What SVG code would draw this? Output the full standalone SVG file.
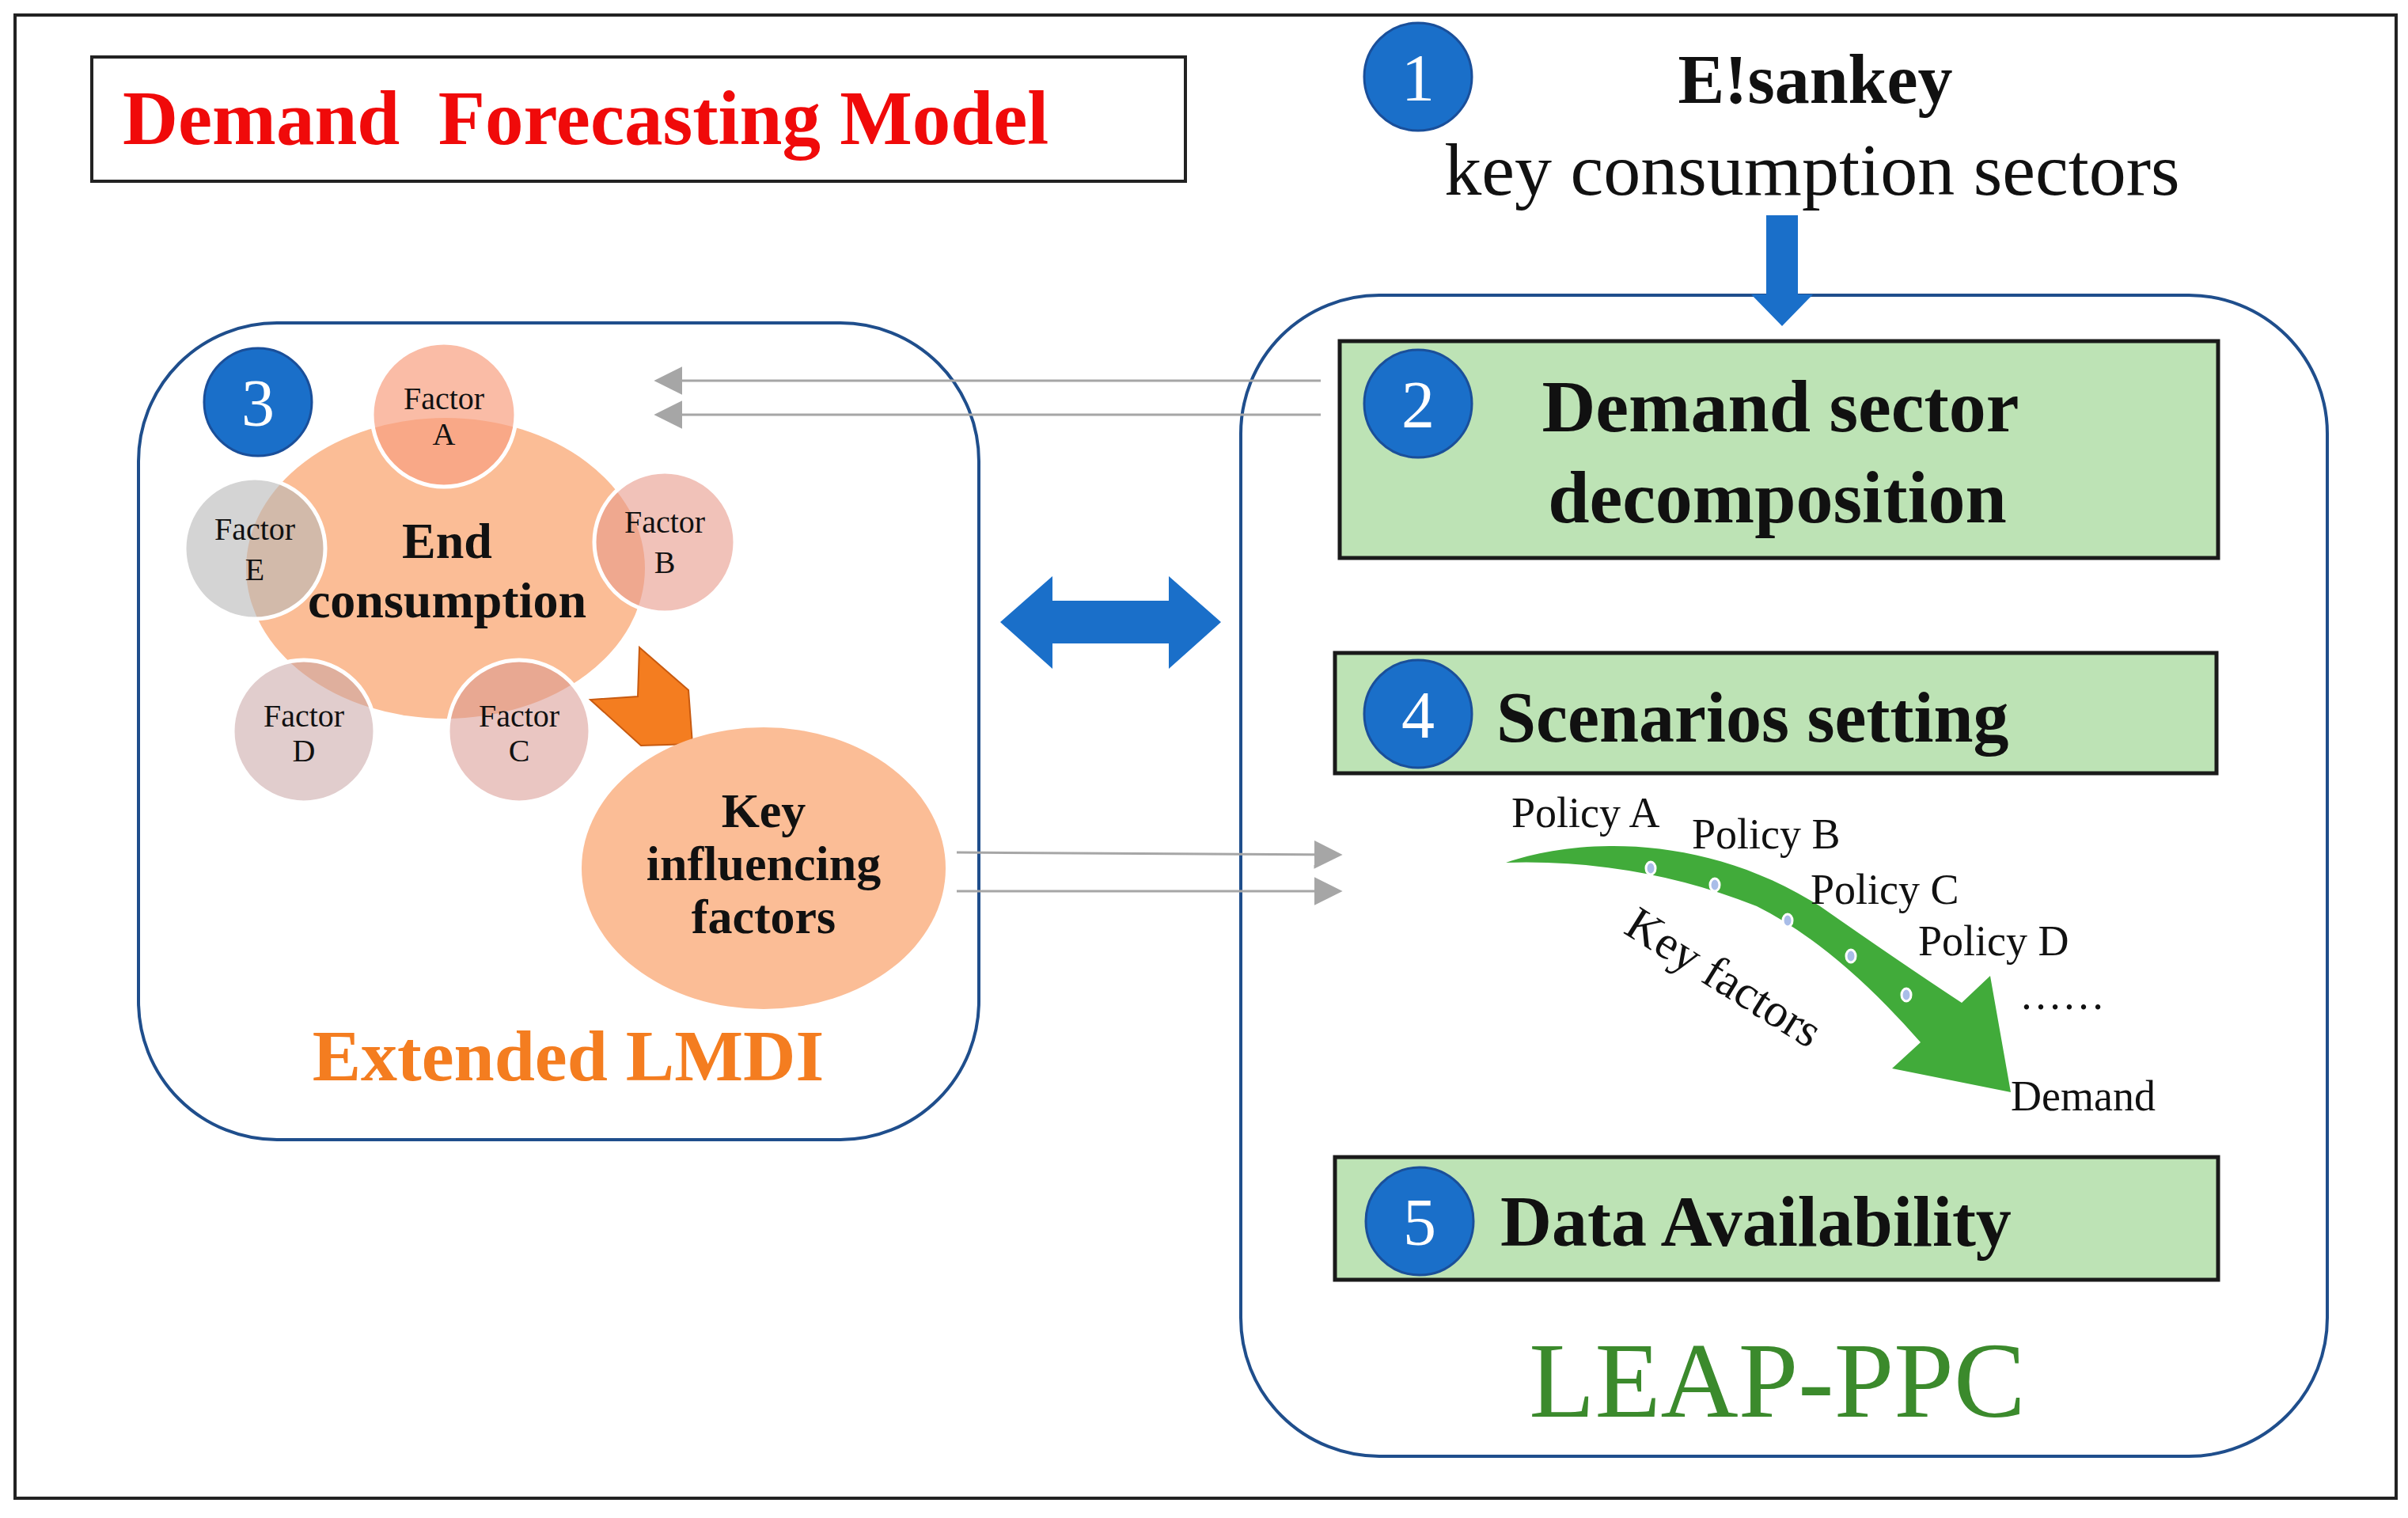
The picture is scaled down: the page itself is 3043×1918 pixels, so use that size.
<svg xmlns="http://www.w3.org/2000/svg" width="3043" height="1918" viewBox="0 0 3043 1918">
<style>
text{font-family:"Liberation Serif","Times New Roman",serif;}
.b{font-weight:bold;}
.num{fill:#1a6fc9;stroke:#1a4f9a;stroke-width:3;}
.nt{fill:#fff;font-size:84px;text-anchor:middle;}
.gb{fill:#bde3b5;stroke:#1a1a1a;stroke-width:5;}
.panel{fill:#fff;stroke:#1f4e8c;stroke-width:4;}
.fac{stroke:#fff;stroke-width:5;}
.ft{font-size:40px;text-anchor:middle;fill:#111;}
.pt{font-size:54px;fill:#111;}
</style>
<defs>
<marker id="gh" viewBox="0 0 10 10" refX="9" refY="5" markerWidth="36" markerHeight="36" markerUnits="userSpaceOnUse" orient="auto"><path d="M0,0 L10,5 L0,10 Z" fill="#a6a6a6"/></marker>
</defs>
<rect x="0" y="0" width="3043" height="1918" fill="#fff"/>
<rect x="19" y="19" width="3009" height="1874" fill="none" stroke="#222" stroke-width="4"/>
<g id="title">
<rect x="116" y="72" width="1382" height="157" fill="#fff" stroke="#222" stroke-width="4"/>
<text x="155" y="182" class="b" font-size="97" fill="#f00a0a" xml:space="preserve">Demand  Forecasting Model</text>
</g>
<g id="panel-left"><rect x="175" y="408" width="1062" height="1032" rx="175" class="panel"/></g>
<g id="panel-right"><rect x="1568" y="373" width="1373" height="1467" rx="175" class="panel"/></g>
<g id="node1">
<circle cx="1792" cy="97" r="68" class="num"/><text x="1792" y="127" class="nt">1</text>
<text x="2294" y="130" class="b" font-size="88" text-anchor="middle" fill="#111">E!sankey</text>
<text x="2290" y="246" font-size="94" text-anchor="middle" fill="#111">key consumption sectors</text>
</g>
<g id="node2">
<rect x="1693" y="431" width="1110" height="274" class="gb"/>
<circle cx="1792" cy="510" r="68" class="num"/><text x="1792" y="540" class="nt">2</text>
<text x="2250" y="545" class="b" font-size="94" text-anchor="middle" fill="#111">Demand sector</text>
<text x="2246" y="660" class="b" font-size="94" text-anchor="middle" fill="#111">decomposition</text>
</g>
<g id="node4">
<rect x="1687" y="825" width="1114" height="152" class="gb"/>
<circle cx="1792" cy="902" r="68" class="num"/><text x="1792" y="932" class="nt">4</text>
<text x="1891" y="937" class="b" font-size="90" fill="#111">Scenarios setting</text>
</g>
<g id="node5">
<rect x="1687" y="1462" width="1116" height="155" class="gb"/>
<circle cx="1794" cy="1543" r="68" class="num"/><text x="1794" y="1573" class="nt">5</text>
<text x="1896" y="1574" class="b" font-size="90" fill="#111">Data Availability</text>
</g>
<text x="2246" y="1790" font-size="136" text-anchor="middle" fill="#3b8a2c">LEAP-PPC</text>
<g id="scenarios">
<path d="M1903,1090 C1990,1060 2150,1050 2300,1145 Q2400,1215 2479,1267 L2515,1233 L2541,1380 L2391,1350 L2427,1317 Q2320,1195 2220,1145 Q2070,1085 1903,1090 Z" fill="#41ab3a"/>
<g fill="#a9bde8" stroke="#fff" stroke-width="3">
<ellipse cx="2086" cy="1097" rx="6" ry="8"/><ellipse cx="2167" cy="1118" rx="6" ry="8"/><ellipse cx="2259" cy="1163" rx="6" ry="8"/><ellipse cx="2339" cy="1208" rx="6" ry="8"/><ellipse cx="2409" cy="1257" rx="6" ry="8"/>
</g>
<text x="1910" y="1045" class="pt">Policy A</text>
<text x="2138" y="1072" class="pt">Policy B</text>
<text x="2288" y="1142" class="pt">Policy C</text>
<text x="2424" y="1207" class="pt">Policy D</text>
<text x="2552" y="1275" class="pt">……</text>
<text x="2541" y="1403" class="pt">Demand</text>
<text x="2050" y="1178" font-size="60" fill="#111" transform="rotate(32 2050 1178)">Key factors</text>
</g>
<g id="node3">
<circle cx="326" cy="508" r="68" class="num"/><text x="326" y="538" class="nt">3</text>
<ellipse cx="563" cy="718" rx="252" ry="190" fill="#fbbd96"/>
<circle cx="561" cy="524" r="91" class="fac" fill="#f8a080" fill-opacity="0.7"/>
<circle cx="840" cy="685" r="89" class="fac" fill="#e89a8a" fill-opacity="0.6"/>
<circle cx="322" cy="693" r="89" class="fac" fill="#b8b8b8" fill-opacity="0.6"/>
<circle cx="384" cy="924" r="90" class="fac" fill="#c9a4a4" fill-opacity="0.55"/>
<circle cx="656" cy="924" r="90" class="fac" fill="#d99890" fill-opacity="0.55"/>
<text x="561" y="517" class="ft">Factor</text><text x="561" y="562" class="ft">A</text>
<text x="840" y="673" class="ft">Factor</text><text x="840" y="724" class="ft">B</text>
<text x="322" y="682" class="ft">Factor</text><text x="322" y="733" class="ft">E</text>
<text x="384" y="918" class="ft">Factor</text><text x="384" y="962" class="ft">D</text>
<text x="656" y="918" class="ft">Factor</text><text x="656" y="962" class="ft">C</text>
<text x="565" y="705" class="b" font-size="64" text-anchor="middle" fill="#111">End</text>
<text x="565" y="780" class="b" font-size="64" text-anchor="middle" fill="#111">consumption</text>
<polygon points="808,818 870,872 875,940 810,942 746,884 806,880" fill="#f47d20" stroke="#c85a10" stroke-width="2"/>
<ellipse cx="965" cy="1097" rx="230" ry="178" fill="#fbbd96"/>
<text x="965" y="1045" class="b" font-size="62" text-anchor="middle" fill="#111">Key</text>
<text x="965" y="1112" class="b" font-size="62" text-anchor="middle" fill="#111">influencing</text>
<text x="965" y="1179" class="b" font-size="62" text-anchor="middle" fill="#111">factors</text>
<text x="718" y="1365" class="b" font-size="92" text-anchor="middle" fill="#f47d20">Extended LMDI</text>
</g>
<g id="connectors">
<path d="M2232,272 H2272 V372 H2291 L2252,412 L2213,372 H2232 Z" fill="#1a6fc9"/>
<path d="M1264,786 L1330,728 V759 H1477 V728 L1543,786 L1477,845 V813 H1330 V845 Z" fill="#1a6fc9"/>
<g stroke="#a6a6a6" stroke-width="3" fill="none">
<line x1="1669" y1="481" x2="830" y2="481" marker-end="url(#gh)"/>
<line x1="1669" y1="524" x2="830" y2="524" marker-end="url(#gh)"/>
<line x1="1209" y1="1077" x2="1693" y2="1080" marker-end="url(#gh)"/>
<line x1="1209" y1="1126" x2="1693" y2="1126" marker-end="url(#gh)"/>
</g>
</g>
</svg>
